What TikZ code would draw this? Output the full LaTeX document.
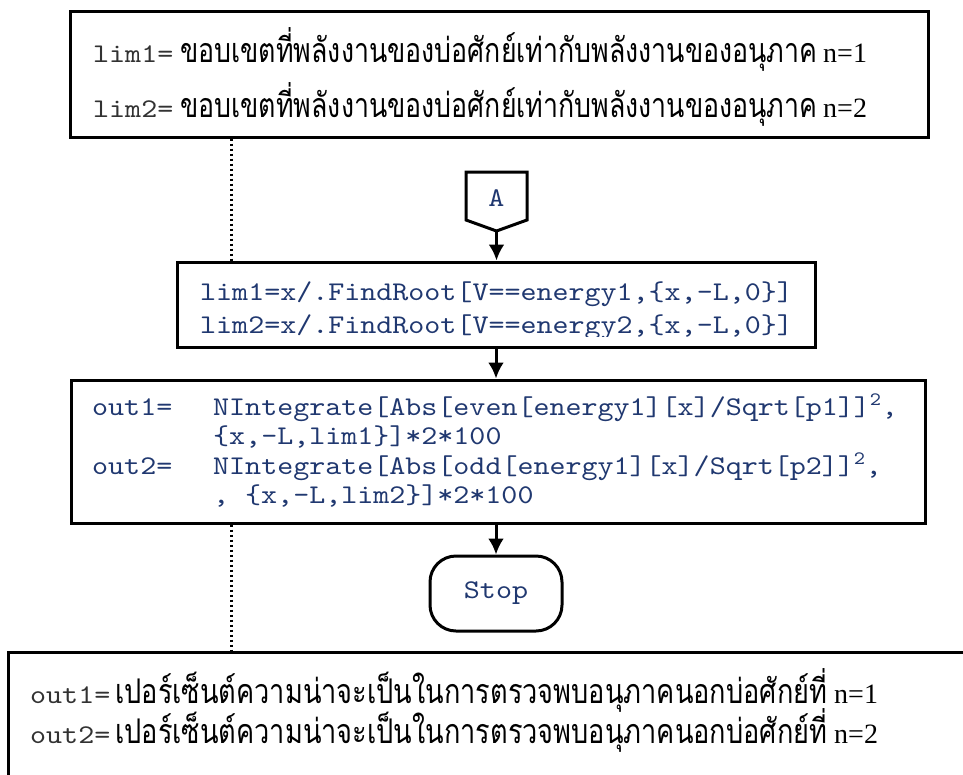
\documentclass[tikz,border=0pt]{standalone}
\usepackage{fontspec}
\usepackage{graphicx}
\usetikzlibrary{arrows.meta,calc}
\newfontfamily\thaifont[Script=Thai]{Loma}
\newfontfamily\codefont[FakeStretch=1.13]{lmmono10-regular.otf}
\newfontfamily\numfont{Liberation Serif}
\definecolor{navy}{RGB}{32,56,112}
\definecolor{lblgray}{RGB}{50,50,50}
\begin{document}
\begin{tikzpicture}[x=1pt,y=-1pt,
  box/.style={draw=black, line width=3pt, rectangle, inner sep=0pt},
  code/.style={font=\fontsize{27}{30}\codefont, text=navy, anchor=base west, inner sep=0pt},
  lbl/.style={font=\fontsize{27}{30}\codefont, text=lblgray, anchor=base west, inner sep=0pt},
  thai/.style={font=\fontsize{34}{40}\thaifont, text=black, anchor=base west, inner sep=0pt},
  num/.style={font=\fontsize{28}{30}\numfont, text=black, anchor=base west, inner sep=0pt},
  arr/.style={line width=3pt, -{Latex[length=16pt,width=16pt]}},
  dots/.style={line width=3pt, dash pattern=on 2.5pt off 2.5pt},
]
\useasboundingbox (0,0) rectangle (963,774);
\clip (0,0) rectangle (963,774);
\fill[white] (0,0) rectangle (963,774);

% top legend box
\node[box, minimum width=858pt, minimum height=126pt] (top) at (499,74) {};
\node[lbl] (l1) at (93,62) {lim1=};
\node[thai] (t1) at (180,62) {\resizebox{637pt}{\height}{ขอบเขตที่พลังงานของบ่อศักย์เท่ากับพลังงานของอนุภาค}};
\node[num] (n1) at (823,62) {n=1};
\node[lbl] (l2) at (93,117) {lim2=};
\node[thai] (t2) at (180,117) {\resizebox{637pt}{\height}{ขอบเขตที่พลังงานของบ่อศักย์เท่ากับพลังงานของอนุภาค}};
\node[num] (n2) at (823,117) {n=2};

% off-page connector A
\coordinate (Atl) at (466,172);
\coordinate (Atr) at (527,172);
\coordinate (Abr) at (527,220);
\coordinate (Atip) at (496.5,231);
\coordinate (Abl) at (466,220);
\draw[line width=3pt, line join=miter] (Atl) -- (Atr) -- (Abr) -- (Atip) -- (Abl) -- cycle;
\node[font=\fontsize{27}{30}\codefont, text=navy, inner sep=0pt] (A) at (496.5,198) {A};

% box 1
\node[box, minimum width=638pt, minimum height=85pt] (b1) at (496,304.5) {};
\begin{scope}
  \clip (177,262) rectangle (815,336);
  \node[code] (c11) at (200,300) {lim1=x/.FindRoot[V==energy1,\{x,-L,0\}]};
  \node[code] (c12) at (200,333) {lim2=x/.FindRoot[V==energy2,\{x,-L,0\}]};
\end{scope}

% box 2
\node[box, minimum width=854pt, minimum height=143pt] (b2) at (498,451.5) {};
\node[code] (o1) at (92,415) {out1=};
\node[code] (c21) at (213,415) {NIntegrate[Abs[even[energy1][x]/Sqrt[p1]]\textsuperscript{2},};
\node[code] (c22) at (213,444.5) {\{x,-L,lim1\}]*2*100};
\node[code] (o2) at (92,474) {out2=};
\node[code] (c23) at (213,474) {NIntegrate[Abs[odd[energy1][x]/Sqrt[p2]]\textsuperscript{2},};
\node[code] (c24) at (213,503.5) {, \{x,-L,lim2\}]*2*100};

% stop terminal
\node[draw=black, line width=3pt, rounded corners=26pt, minimum width=132pt, minimum height=75pt,
      font=\fontsize{27}{30}\codefont, text=navy, inner sep=0pt] (stop) at (496,593.5) {Stop};

% bottom legend box
\node[box, minimum width=982pt, minimum height=160pt] (bot) at (499,732) {};
\node[lbl] (l3) at (30,703) {out1=};
\node[thai] (t3) at (115,703) {\resizebox{712pt}{\height}{เปอร์เซ็นต์ความน่าจะเป็นในการตรวจพบอนุภาคนอกบ่อศักย์ที่}};
\node[num] (n3) at (834,703) {n=1};
\node[lbl] (l4) at (30,743) {out2=};
\node[thai] (t4) at (115,743) {\resizebox{712pt}{\height}{เปอร์เซ็นต์ความน่าจะเป็นในการตรวจพบอนุภาคนอกบ่อศักย์ที่}};
\node[num] (n4) at (834,743) {n=2};

% connectors
\draw[arr] (Atip) -- (Atip |- b1.north);
\draw[arr] (b1.south) -- (b1.south |- b2.north);
\draw[arr] (b2.south -| stop.north) -- (stop.north);

% dotted annotation links
\coordinate (d1) at (231,0);
\draw[dots] (d1 |- top.south) -- (d1 |- b1.north);
\draw[dots] (d1 |- b2.south) -- (d1 |- bot.north);
\end{tikzpicture}
\end{document}
